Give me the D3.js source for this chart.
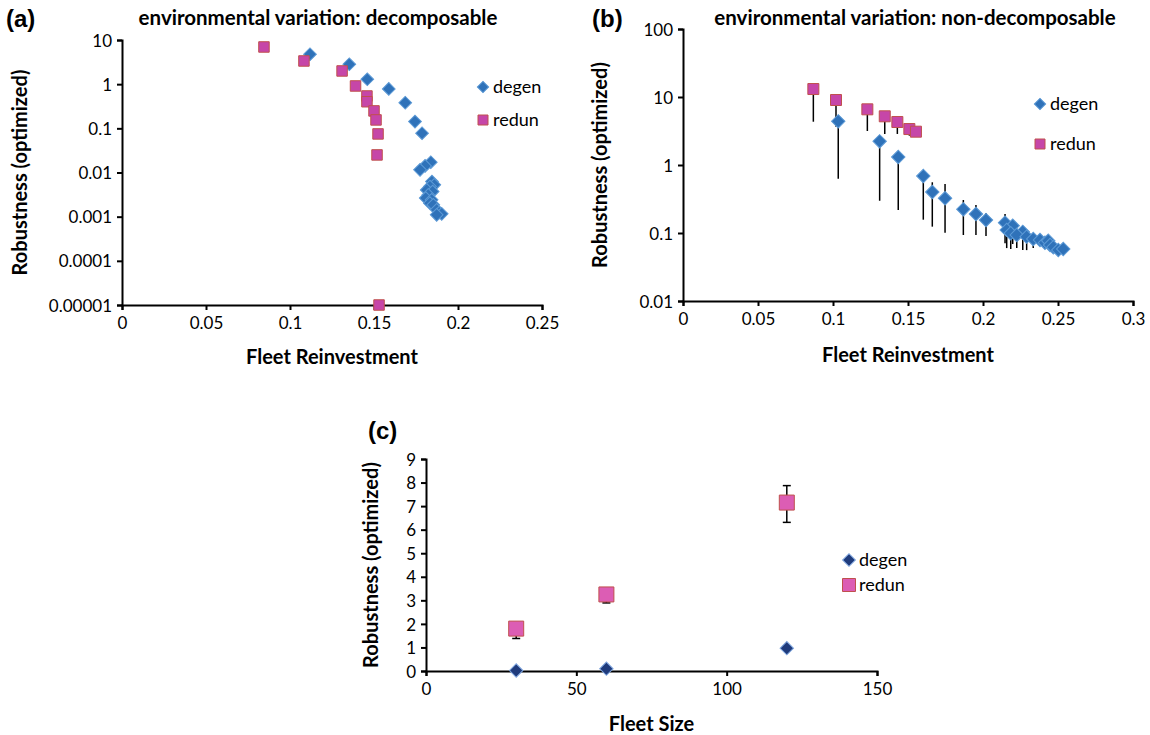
<!DOCTYPE html>
<html>
<head>
<meta charset="utf-8">
<script src="https://cdn.jsdelivr.net/npm/d3@7"></script>
<style>
  body { margin: 0; background: #fff; }
  svg text { font-family: Lato, "Open Sans", sans-serif; fill: #000; }
</style>
</head>
<body>
<div id="chart"></div>
<script>
// ---- panel (a): decomposable ----
const aDegenX = [0.1119, 0.1353, 0.146, 0.1588, 0.1686, 0.1744, 0.1786, 0.1838, 0.1804, 0.1774,
  0.1845, 0.1859, 0.1833, 0.1814, 0.1849, 0.1823, 0.1808, 0.1843, 0.1833, 0.1853, 0.1873, 0.1889, 0.1903, 0.1873]
const aDegenY = [4.75, 2.82, 1.29, 0.78, 0.38, 0.142, 0.0774, 0.0171, 0.0141, 0.0115,
  0.00623, 0.00525, 0.00481, 0.00404, 0.0037, 0.00311, 0.00263, 0.0024, 0.00202, 0.00185, 0.00143, 0.00124, 0.00116, 0.0011]
const aRedunX = [0.0845, 0.1083, 0.131, 0.139, 0.1458, 0.1458, 0.150, 0.1512, 0.1524, 0.1518, 0.153]
const aRedunY = [6.95, 3.35, 1.99, 0.91, 0.54, 0.40, 0.248, 0.155, 0.0747, 0.025, 0.00001]
const aXTicks = [0, 0.05, 0.1, 0.15, 0.2, 0.25]
const aYTicks = [10, 1, 0.1, 0.01, 0.001, 0.0001, 0.00001]

// ---- panel (b): non-decomposable ----
const bDegenX = [0.1035, 0.1311, 0.1435, 0.1602, 0.1662, 0.1747, 0.1869, 0.1953, 0.202, 0.2147, 0.2198,
  0.2158, 0.2185, 0.2265, 0.2225, 0.2291, 0.2335, 0.238, 0.2413, 0.2435, 0.2447, 0.2469, 0.2502, 0.2535]
const bDegenY = [4.39, 2.23, 1.31, 0.689, 0.401, 0.324, 0.223, 0.19, 0.155, 0.142, 0.128,
  0.111, 0.099, 0.104, 0.0935, 0.0883, 0.0817, 0.0788, 0.072, 0.077, 0.0667, 0.0617, 0.0562, 0.0582]
const bDegenLo = [0.629, 0.298, 0.218, 0.157, 0.124, 0.101, 0.0935, 0.0935, 0.0904, 0.0706, 0.0689,
  0.06, 0.058, 0.056, 0.06, 0.056, 0.06, 0.066, 0.058, 0.062, 0.058, 0.055, 0.05, 0.052]
const bDegenHi = [4.39, 2.23, 1.31, 0.75, 0.557, 0.526, 0.306, 0.258, 0.195, 0.19, 0.155,
  0.12, 0.11, 0.125, 0.1, 0.095, 0.095, 0.085, 0.085, 0.085, 0.075, 0.07, 0.062, 0.065]
const bRedunX = [0.0869, 0.102, 0.1229, 0.1345, 0.1429, 0.1509, 0.1553]
const bRedunY = [13.1, 9.03, 6.59, 5.2, 4.29, 3.38, 3.09]
const bRedunLo = [4.33, 3.66, 3.16, 2.86, 2.86, 2.70, 2.70]
const bRedunHi = [13.1, 9.03, 6.59, 5.2, 4.29, 3.38, 3.09]
const bXTicks = [0, 0.05, 0.1, 0.15, 0.2, 0.25, 0.3]
const bYTicks = [100, 10, 1, 0.1, 0.01]

// ---- panel (c): fleet size ----
const cDegenX = [30, 60, 120]
const cDegenY = [0.02, 0.1, 0.97]
const cDegenLo = [0.0, 0.05, 0.9]
const cDegenHi = [0.04, 0.15, 1.05]
const cRedunX = [30, 60, 120]
const cRedunY = [1.8, 3.25, 7.15]
const cRedunLo = [1.38, 2.89, 6.31]
const cRedunHi = [1.8, 3.48, 7.87]
const cXTicks = [0, 50, 100, 150]
const cYTicks = [0, 1, 2, 3, 4, 5, 6, 7, 8, 9]

const svg = d3.select("#chart").append("svg")
  .attr("width", 1150)
  .attr("height", 735)

const fmt = d => String(d)

function drawPanel(p) {
  const g = svg.append("g")
  const x = d3.scaleLinear().domain(p.xDomain).range([p.left, p.right])
  const y = (p.log ? d3.scaleLog() : d3.scaleLinear()).domain(p.yDomain).range([p.bottom, p.top])

  // axes
  const xAxis = g.append("g")
    .attr("transform", `translate(0,${p.bottom})`)
    .call(d3.axisBottom(x).tickValues(p.xTicks).tickFormat(fmt).tickSize(5).tickPadding(7))
  const yAxis = g.append("g")
    .attr("transform", `translate(${p.left},0)`)
    .call(d3.axisLeft(y).tickValues(p.yTicks).tickFormat(fmt).tickSize(5).tickPadding(5))
  ;[xAxis, yAxis].forEach(a => {
    a.select(".domain").attr("stroke", "#000").attr("stroke-width", 2)
    a.selectAll(".tick line").attr("stroke", "#000").attr("stroke-width", 2)
    a.selectAll(".tick text").style("font-size", "17px").attr("fill", "#000")
  })
  yAxis.selectAll(".tick text").attr("dy", "0.36em")

  // error bars
  p.series.forEach(s => {
    if (!s.lo) return
    const rows = s.x.map((v, i) => ({ x: v, lo: s.lo[i], hi: s.hi[i] }))
    g.selectAll(null).data(rows).join("line")
      .attr("x1", d => x(d.x)).attr("x2", d => x(d.x))
      .attr("y1", d => y(Math.max(d.lo, p.yDomain[0]))).attr("y2", d => y(d.hi))
      .attr("stroke", "#000").attr("stroke-width", 1.5)
    if (p.caps) {
      rows.forEach(d => {
        [d.lo, d.hi].forEach(v => {
          if (v <= p.yDomain[0]) return
          g.append("line")
            .attr("x1", x(d.x) - 4).attr("x2", x(d.x) + 4)
            .attr("y1", y(v)).attr("y2", y(v))
            .attr("stroke", "#000").attr("stroke-width", 1.5)
        })
      })
    }
  })

  // markers
  p.series.forEach(s => {
    const rows = s.x.map((v, i) => ({ x: v, y: s.y[i] }))
    g.selectAll(null).data(rows).join("path")
      .attr("d", d3.symbol(d3.symbolSquare, s.size * s.size))
      .attr("transform", d => `translate(${x(d.x)},${y(d.y)})` + (s.diamond ? " rotate(45)" : ""))
      .attr("fill", s.fill)
      .attr("stroke", s.stroke)
      .attr("stroke-width", 1)
  })

  // legend
  p.series.forEach((s, i) => {
    const ly = p.legendY + i * p.legendGap
    g.append("path")
      .attr("d", d3.symbol(d3.symbolSquare, s.legSize * s.legSize))
      .attr("transform", `translate(${p.legendX},${ly})` + (s.diamond ? " rotate(45)" : ""))
      .attr("fill", s.fill).attr("stroke", s.stroke)
    g.append("text")
      .attr("x", p.legendX + 10).attr("y", ly).attr("dy", "0.35em")
      .style("font-size", "18px").text(s.name)
  })

  // titles
  g.append("text")
    .attr("x", (p.left + p.right) / 2).attr("y", p.xTitleY)
    .attr("text-anchor", "middle")
    .style("font-size", "20px").style("font-weight", "bold")
    .text(p.xTitle)
  g.append("text")
    .attr("transform", `translate(${p.yTitleX},${(p.top + p.bottom) / 2}) rotate(-90)`)
    .attr("text-anchor", "middle")
    .style("font-size", "20px").style("font-weight", "bold")
    .text("Robustness (optimized)")
  if (p.title) {
    g.append("text")
      .attr("x", p.titleX).attr("y", 25)
      .attr("text-anchor", "middle")
      .style("font-size", "20.5px").style("font-weight", "bold")
      .text(p.title)
  }
  g.append("text")
    .attr("x", p.tagX).attr("y", p.tagY)
    .style("font-family", "Liberation Sans, Arial, sans-serif")
    .style("font-size", "24px").style("font-weight", "bold")
    .text(p.tag)
}

const blue = { fill: "#2f72b9", stroke: "#5d9ad6" }
const pink = { fill: "#c646a8", stroke: "#c0504d" }

drawPanel({
  left: 122, right: 542, top: 40, bottom: 305, log: true,
  xDomain: [0, 0.25], yDomain: [0.00001, 10], xTicks: aXTicks, yTicks: aYTicks,
  series: [
    { name: "degen", x: aDegenX, y: aDegenY, diamond: true, size: 9, legSize: 8, ...blue },
    { name: "redun", x: aRedunX, y: aRedunY, diamond: false, size: 10.5, legSize: 10, ...pink }
  ],
  legendX: 483, legendY: 87, legendGap: 33,
  xTitle: "Fleet Reinvestment", xTitleY: 364, yTitleX: 27,
  title: "environmental variation: decomposable", titleX: 318,
  tag: "(a)", tagX: 6, tagY: 27
})

drawPanel({
  left: 683, right: 1133, top: 29, bottom: 301, log: true,
  xDomain: [0, 0.3], yDomain: [0.01, 100], xTicks: bXTicks, yTicks: bYTicks,
  series: [
    { name: "degen", x: bDegenX, y: bDegenY, lo: bDegenLo, hi: bDegenHi, diamond: true, size: 9.5, legSize: 8, ...blue },
    { name: "redun", x: bRedunX, y: bRedunY, lo: bRedunLo, hi: bRedunHi, diamond: false, size: 11, legSize: 10, ...pink }
  ],
  legendX: 1040, legendY: 104, legendGap: 40,
  xTitle: "Fleet Reinvestment", xTitleY: 362, yTitleX: 607,
  title: "environmental variation: non-decomposable", titleX: 915,
  tag: "(b)", tagX: 592, tagY: 27
})

drawPanel({
  left: 426, right: 877, top: 459, bottom: 671, log: false,
  xDomain: [0, 150], yDomain: [0, 9], xTicks: cXTicks, yTicks: cYTicks, caps: true,
  series: [
    { name: "degen", x: cDegenX, y: cDegenY, lo: cDegenLo, hi: cDegenHi, diamond: true, size: 9.5, legSize: 9, fill: "#1f3b7c", stroke: "#7fa6df" },
    { name: "redun", x: cRedunX, y: cRedunY, lo: cRedunLo, hi: cRedunHi, diamond: false, size: 15, legSize: 13, fill: "#dc5db4", stroke: "#c0504d" }
  ],
  legendX: 849, legendY: 560, legendGap: 25,
  xTitle: "Fleet Size", xTitleY: 731, yTitleX: 378,
  tag: "(c)", tagX: 368, tagY: 439
})
</script>
</body>
</html>
